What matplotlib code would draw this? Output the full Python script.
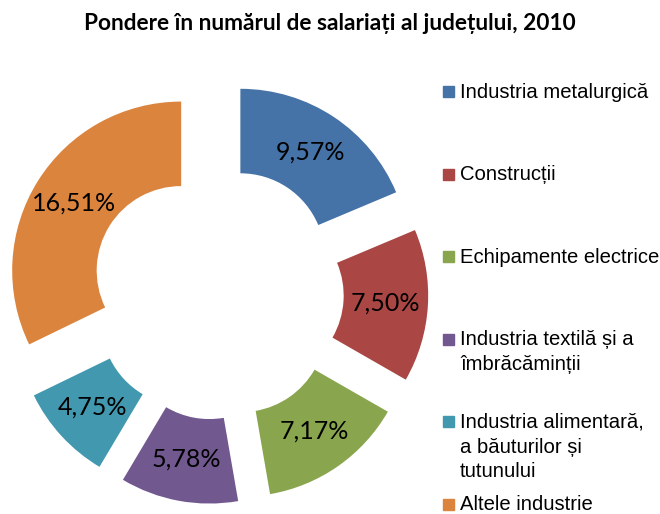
import matplotlib
matplotlib.use("Agg")
import matplotlib.pyplot as plt
from matplotlib.patches import Rectangle

# data
categories = ["Industria metalurgică", "Construcții", "Echipamente electrice",
              "Industria textilă și a\nîmbrăcăminții",
              "Industria alimentară,\na băuturilor și\ntutunului",
              "Altele industrie"]
values = [9.57, 7.50, 7.17, 5.78, 4.75, 16.51]
colors = ["#4572A7", "#AA4643", "#89A54E", "#71588F", "#4198AF", "#DB843D"]
title = "Pondere în numărul de salariați al județului, 2010"

total = sum(values)

def fmt(p):
    return f"{p * total / 100:.2f}".replace(".", ",") + "%"

W, H = 660, 514
fig = plt.figure(figsize=(W / 100, H / 100), dpi=100)

# pie axes: centre at (217, 293) px, radius 169 px
cx, cy, R = 217, 293, 169
half = 217
ax = fig.add_axes([(cx - half) / W, (H - cy - half) / H, 2 * half / W, 2 * half / H])
wedges, texts, autotexts = ax.pie(values, colors=colors, startangle=90, counterclock=False,
                                  explode=[0.25] * len(values), autopct=fmt, pctdistance=0.75,
                                  wedgeprops=dict(width=0.5, linewidth=0))
for t in autotexts:
    t.set_fontfamily("Lato")
    t.set_fontsize(18)
    t.set_color("black")
lim = half / R
ax.set_xlim(-lim, lim)
ax.set_ylim(-lim, lim)
ax.set_aspect("equal")
ax.axis("off")

fig.text(330 / W, 1 - 23 / H, title, ha="center", va="center",
         fontsize=16.3, fontweight="bold", family="Lato")

# legend, drawn by hand
for i, (lab, col) in enumerate(zip(categories, colors)):
    y = 91 + 82.6 * i
    fig.patches.append(Rectangle((443 / W, 1 - (y + 6) / H), 11 / W, 11 / H,
                                 transform=fig.transFigure, color=col, figure=fig))
    fig.text(460 / W, 1 - (y - 8.5) / H, lab, ha="left", va="top", fontsize=14.6,
             family="Liberation Sans", linespacing=1.38)

fig.savefig("out.png", dpi=100)
